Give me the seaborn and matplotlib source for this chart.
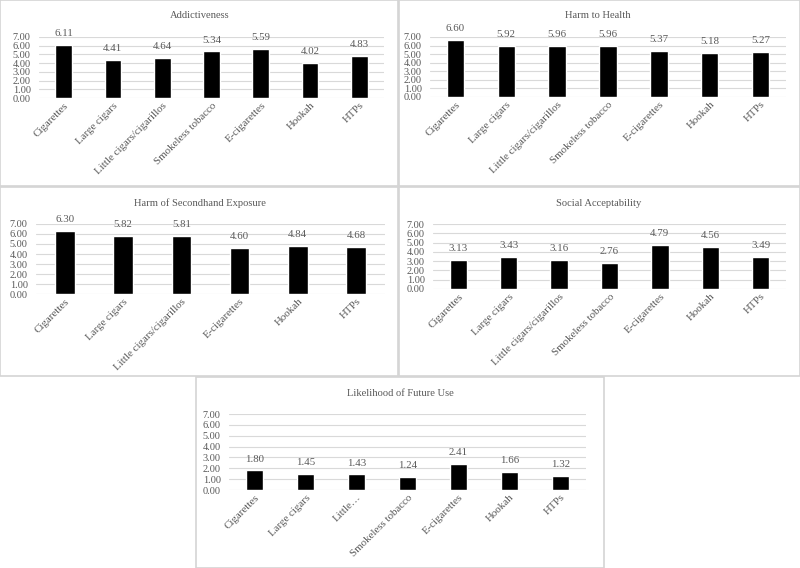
import matplotlib
matplotlib.use('Agg')
import matplotlib.pyplot as plt
import matplotlib.patches as mpatches
import pandas as pd
import seaborn as sns

# data
cats7 = ["Cigarettes", "Large cigars", "Little cigars/cigarillos", "Smokeless tobacco",
         "E-cigarettes", "Hookah", "HTPs"]
cats6 = ["Cigarettes", "Large cigars", "Little cigars/cigarillos", "E-cigarettes",
         "Hookah", "HTPs"]
cats_future = ["Cigarettes", "Large cigars", "Little\u2026", "Smokeless tobacco",
               "E-cigarettes", "Hookah", "HTPs"]

addictiveness = [6.11, 4.41, 4.64, 5.34, 5.59, 4.02, 4.83]
harm_health = [6.60, 5.92, 5.96, 5.96, 5.37, 5.18, 5.27]
harm_secondhand = [6.30, 5.82, 5.81, 4.60, 4.84, 4.68]
social_accept = [3.13, 3.43, 3.16, 2.76, 4.79, 4.56, 3.49]
future_use = [1.80, 1.45, 1.43, 1.24, 2.41, 1.66, 1.32]

titles = ["Addictiveness", "Harm to Health", "Harm of Secondhand Exposure",
          "Social Acceptability", "Likelihood of Future Use"]
yticks = [0, 1, 2, 3, 4, 5, 6, 7]

W, H = 800, 568
GRAY = "#595959"

sns.set_style("white")
plt.rcParams['font.family'] = ['Liberation Serif', 'DejaVu Serif']

fig = plt.figure(figsize=(8, 5.68), dpi=100)
fig.patch.set_facecolor("white")


def px_box(x0, y0, x1, y1):
    return [x0 / W, 1 - y1 / H, (x1 - x0) / W, (y1 - y0) / H]


def panel_frame(x0, y0, x1, y1):
    l, b, w, h = px_box(x0, y0, x1, y1)
    fig.patches.append(mpatches.Rectangle((l, b), w, h, transform=fig.transFigure,
                                          facecolor="white", edgecolor="#d4d4d4",
                                          linewidth=1.2, zorder=-1))


def draw_panel(frame, axbox, title, title_xy, cats, vals):
    panel_frame(*frame)
    ax = fig.add_axes(px_box(*axbox))
    df = pd.DataFrame({"cat": cats, "val": vals})
    sns.barplot(data=df, x="cat", y="val", color="black", width=0.34,
                saturation=1, ax=ax, zorder=3)
    ax.set_xlim(-0.5, len(cats) - 0.5)
    ax.set_ylim(0, 7)
    ax.set_yticks(yticks)
    ax.set_yticklabels(["%.2f" % t for t in yticks], fontsize=7.4, color=GRAY)
    ax.tick_params(axis="y", length=0, pad=6)
    ax.tick_params(axis="x", length=0, pad=2)
    ax.set_xticks(range(len(cats)))
    ax.set_xticklabels(cats, rotation=45, ha="right", rotation_mode="anchor",
                       fontsize=7.8, color=GRAY)
    ax.grid(axis="y", color="#d9d9d9", linewidth=0.8, zorder=0)
    ax.set_axisbelow(True)
    for s in ax.spines.values():
        s.set_visible(False)
    ax.set_facecolor("none")
    ax.set_xlabel("")
    ax.set_ylabel("")
    ax.bar_label(ax.containers[0], fmt="%.2f", padding=5, fontsize=7.8, color=GRAY)
    fig.text(title_xy[0] / W, 1 - title_xy[1] / H, title, ha="center", va="center",
             fontsize=7.6, color=GRAY)
    return ax


draw_panel((0, 0, 398, 186), (39, 37, 384, 98), titles[0], (200, 16), cats7, addictiveness)
draw_panel((399, 0, 800, 186), (430, 37, 786, 97), titles[1], (598, 16), cats7, harm_health)
draw_panel((0, 187, 398, 376), (36, 224, 385, 294), titles[2], (200, 203), cats6, harm_secondhand)
draw_panel((399, 187, 800, 376), (433, 224, 786, 289), titles[3], (599, 203), cats7, social_accept)
draw_panel((196, 377, 604, 568), (229, 414, 586, 490), titles[4], (400, 393), cats_future, future_use)

plt.savefig("out.png", dpi=100, facecolor=fig.get_facecolor())
plt.close()
